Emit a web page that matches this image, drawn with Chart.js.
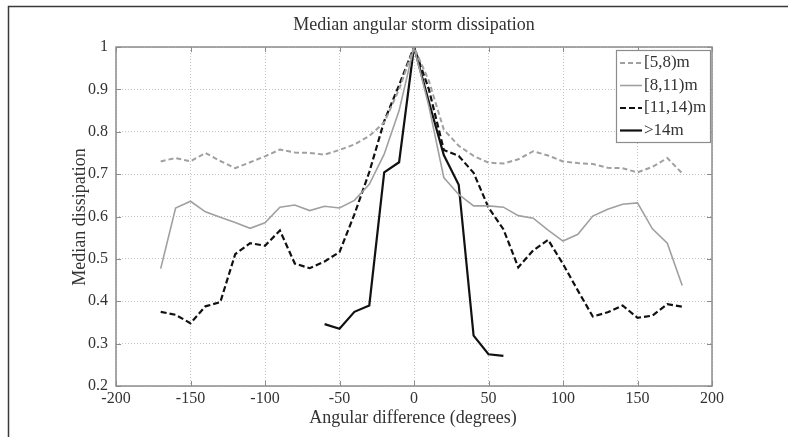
<!DOCTYPE html>
<html>
<head>
<meta charset="utf-8">
<script src="https://cdn.jsdelivr.net/npm/chart.js@4.4.1/dist/chart.umd.min.js"></script>
<style>
  html, body { margin: 0; padding: 0; background: #fff; }
  #wrap { width: 788px; height: 437px; }
</style>
</head>
<body>
<div id="wrap"><canvas id="stormChart" width="788" height="437"></canvas></div>
<script>
// angles (degrees) for the three full series
const angles = [-170, -160, -150, -140, -130, -120, -110, -100, -90, -80, -70, -60,
  -50, -40, -30, -20, -10, 0, 10, 20, 30, 40, 50, 60, 70, 80, 90, 100, 110, 120,
  130, 140, 150, 160, 170, 180];
// angles for the >14m series
const anglesHigh = [-60, -50, -40, -30, -20, -10, 0, 10, 20, 30, 40, 50, 60];

const d5to8 = [0.730, 0.738, 0.730, 0.750, 0.731, 0.714, 0.728, 0.742, 0.758, 0.751, 0.750, 0.746,
  0.757, 0.770, 0.790, 0.822, 0.900, 1.000, 0.920, 0.805, 0.767, 0.743, 0.727, 0.725, 0.735, 0.754,
  0.744, 0.730, 0.726, 0.724, 0.715, 0.714, 0.704, 0.717, 0.738, 0.702];
const d8to11 = [0.477, 0.620, 0.636, 0.611, 0.598, 0.586, 0.572, 0.585, 0.622, 0.627, 0.614, 0.624,
  0.620, 0.638, 0.676, 0.747, 0.850, 1.000, 0.860, 0.692, 0.652, 0.625, 0.625, 0.622, 0.602, 0.596,
  0.568, 0.542, 0.558, 0.601, 0.617, 0.629, 0.632, 0.571, 0.537, 0.437];
const d11to14 = [0.375, 0.368, 0.348, 0.388, 0.398, 0.511, 0.537, 0.531, 0.567, 0.489, 0.478, 0.494,
  0.516, 0.605, 0.705, 0.825, 0.910, 1.000, 0.900, 0.757, 0.743, 0.703, 0.621, 0.570, 0.480, 0.520,
  0.545, 0.488, 0.425, 0.364, 0.374, 0.390, 0.361, 0.366, 0.393, 0.387];
const dOver14 = [0.346, 0.335, 0.375, 0.390, 0.704, 0.728, 1.000, 0.870, 0.745, 0.675, 0.319, 0.275, 0.271];

const seriesNames = ['[5,8)m', '[8,11)m', '[11,14)m', '>14m'];
const xTickValues = [-200, -150, -100, -50, 0, 50, 100, 150, 200];
const xTickLabels = ['-200', '-150', '-100', '-50', '0', '50', '100', '150', '200'];
const yTickValues = [0.2, 0.3, 0.4, 0.5, 0.6, 0.7, 0.8, 0.9, 1];
const yTickLabels = ['0.2', '0.3', '0.4', '0.5', '0.6', '0.7', '0.8', '0.9', '1'];

const serif = "'Liberation Serif', 'DejaVu Serif', serif";

function pts(xs, ys) {
  return xs.map((x, i) => ({ x: x, y: ys[i] }));
}

// frame, axes box, inward ticks, titles and legend
const decor = {
  id: 'decor',
  beforeDraw(chart) {
    const ctx = chart.ctx;
    ctx.save();
    ctx.strokeStyle = '#3a3a3a';
    ctx.lineWidth = 1.5;
    ctx.beginPath();
    ctx.moveTo(8.5, 437);
    ctx.lineTo(8.5, 6.5);
    ctx.lineTo(788, 6.5);
    ctx.stroke();
    ctx.restore();
  },
  afterDraw(chart) {
    const { ctx, chartArea: a, scales } = chart;
    const xs = scales.x, ys = scales.y;
    ctx.save();
    // box
    ctx.strokeStyle = '#8c8c8c';
    ctx.lineWidth = 1.5;
    ctx.strokeRect(a.left, a.top, a.right - a.left, a.bottom - a.top);
    // inward ticks
    ctx.lineWidth = 1;
    ctx.beginPath();
    xTickValues.forEach(v => {
      const px = Math.round(xs.getPixelForValue(v)) + 0.5;
      ctx.moveTo(px, a.bottom); ctx.lineTo(px, a.bottom - 5);
      ctx.moveTo(px, a.top); ctx.lineTo(px, a.top + 5);
    });
    yTickValues.forEach(v => {
      const py = Math.round(ys.getPixelForValue(v)) + 0.5;
      ctx.moveTo(a.left, py); ctx.lineTo(a.left + 5, py);
      ctx.moveTo(a.right, py); ctx.lineTo(a.right - 5, py);
    });
    ctx.stroke();

    // texts
    ctx.fillStyle = '#333';
    ctx.textAlign = 'center';
    ctx.textBaseline = 'middle';
    ctx.font = '18px ' + serif;
    ctx.fillText('Median angular storm dissipation', 414, 25);
    ctx.fillText('Angular difference (degrees)', 413, 418);
    ctx.save();
    ctx.translate(80, 217);
    ctx.rotate(-Math.PI / 2);
    ctx.fillText('Median dissipation', 0, 0);
    ctx.restore();

    // legend
    const lx = 616, ly = 50, lw = 94, lh = 92;
    ctx.fillStyle = '#fff';
    ctx.fillRect(lx, ly, lw, lh);
    ctx.strokeStyle = '#8c8c8c';
    ctx.lineWidth = 1.2;
    ctx.strokeRect(lx + 0.5, ly + 0.5, lw, lh);
    ctx.font = '17px ' + serif;
    ctx.textAlign = 'left';
    chart.data.datasets.forEach((ds, i) => {
      const ry = 63 + i * 22.5;
      ctx.save();
      ctx.strokeStyle = ds.borderColor;
      ctx.lineWidth = ds.borderWidth;
      ctx.setLineDash(ds.borderDash || []);
      ctx.beginPath();
      ctx.moveTo(620, ry); ctx.lineTo(642, ry);
      ctx.stroke();
      ctx.restore();
      ctx.fillStyle = '#333';
      ctx.fillText(ds.label, 644, ry);
    });
    ctx.restore();
  }
};

const ctx = document.getElementById('stormChart').getContext('2d');
const stormChart = new Chart(ctx, {
  type: 'line',
  data: {
    datasets: [{
      label: seriesNames[0],
      data: pts(angles, d5to8),
      borderColor: '#a0a0a0',
      borderWidth: 2,
      borderDash: [5, 3]
    }, {
      label: seriesNames[1],
      data: pts(angles, d8to11),
      borderColor: '#a0a0a0',
      borderWidth: 1.6
    }, {
      label: seriesNames[2],
      data: pts(angles, d11to14),
      borderColor: '#111',
      borderWidth: 2.2,
      borderDash: [6, 3]
    }, {
      label: seriesNames[3],
      data: pts(anglesHigh, dOver14),
      borderColor: '#111',
      borderWidth: 2.2
    }]
  },
  options: {
    responsive: false,
    animation: false,
    layout: { padding: { top: 47, right: 76, left: 0, bottom: 0 } },
    elements: { point: { radius: 0 }, line: { tension: 0 } },
    plugins: {
      legend: { display: false },
      title: { display: false },
      tooltip: { enabled: false }
    },
    scales: {
      x: {
        type: 'linear',
        min: -200,
        max: 200,
        afterBuildTicks: (scale) => { scale.ticks = xTickValues.map(v => ({ value: v })); },
        afterFit: (scale) => { scale.height = 51; },
        ticks: {
          padding: 3,
          color: '#333',
          font: { family: serif, size: 16 },
          callback: (v, i) => xTickLabels[i]
        },
        grid: { color: '#c4c4c4', lineWidth: 1, drawTicks: false },
        border: { display: false, dash: [1, 2] }
      },
      y: {
        min: 0.2,
        max: 1,
        afterBuildTicks: (scale) => { scale.ticks = yTickValues.map(v => ({ value: v })); },
        afterFit: (scale) => { scale.width = 116; },
        ticks: {
          padding: 8,
          color: '#333',
          font: { family: serif, size: 16 },
          callback: (v, i) => yTickLabels[i]
        },
        grid: { color: '#c4c4c4', lineWidth: 1, drawTicks: false },
        border: { display: false, dash: [1, 2] }
      }
    }
  },
  plugins: [decor]
});
</script>
</body>
</html>
